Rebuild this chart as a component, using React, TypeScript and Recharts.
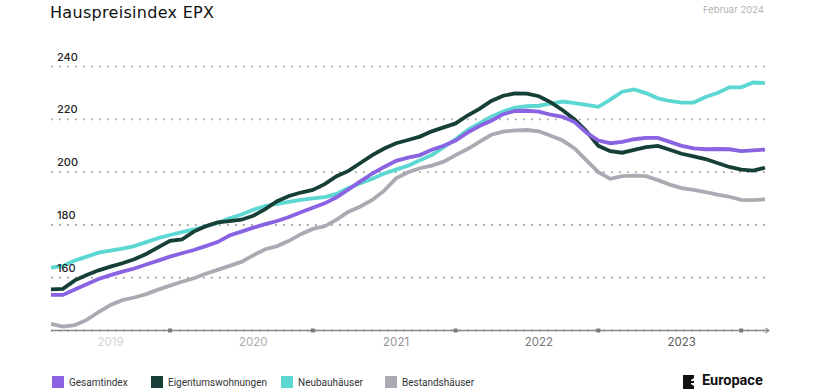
import { LineChart, Line, XAxis, YAxis, CartesianGrid, ReferenceDot } from 'recharts'

const months = [
  '2019-02', '2019-03', '2019-04', '2019-05', '2019-06', '2019-07', '2019-08', '2019-09', '2019-10', '2019-11', '2019-12',
  '2020-01', '2020-02', '2020-03', '2020-04', '2020-05', '2020-06', '2020-07', '2020-08', '2020-09', '2020-10', '2020-11', '2020-12',
  '2021-01', '2021-02', '2021-03', '2021-04', '2021-05', '2021-06', '2021-07', '2021-08', '2021-09', '2021-10', '2021-11', '2021-12',
  '2022-01', '2022-02', '2022-03', '2022-04', '2022-05', '2022-06', '2022-07', '2022-08', '2022-09', '2022-10', '2022-11', '2022-12',
  '2023-01', '2023-02', '2023-03', '2023-04', '2023-05', '2023-06', '2023-07', '2023-08', '2023-09', '2023-10', '2023-11', '2023-12',
  '2024-01', '2024-02',
]

const gesamtindex = [
  153.5, 153.5, 155.5, 157.5, 159.5, 161, 162.3, 163.5, 165, 166.5, 168,
  169.3, 170.5, 172, 173.5, 176, 177.5, 179, 180.3, 181.5, 183, 184.8, 186.5,
  188.2, 190.5, 193.5, 196.5, 199.5, 202, 204.3, 205.5, 206.5, 208.5, 210, 212,
  215, 217.5, 219.5, 222, 223.2, 223.3, 223, 221.8, 221, 219, 215, 212,
  211, 211.5, 212.5, 213, 213, 211.5, 210, 209, 208.7, 208.8, 208.7, 208,
  208.3, 208.6,
]

const eigentumswohnungen = [
  155.6, 155.8, 159, 161, 162.8, 164.2, 165.5, 167, 169, 171.5, 174,
  174.5, 177.5, 179.5, 181, 181.5, 182, 183.5, 186, 189, 191, 192.3, 193.3,
  195.5, 198.5, 200.5, 203.5, 206.5, 209, 211, 212.2, 213.5, 215.5, 217, 218.5,
  221.5, 224, 227, 229, 229.9, 229.8, 228.8, 226.5, 223.5, 220, 215.5, 210,
  208, 207.4, 208.5, 209.5, 210, 208.5, 207, 206, 205, 203.5, 202, 201,
  200.6, 201.7,
]

const neubauhaeuser = [
  163.8, 164.5, 166.5, 168, 169.5, 170.3, 171, 172, 173.5, 175, 176.2,
  177.3, 178.3, 179.5, 180.8, 182.5, 184, 185.8, 187.2, 188, 188.8, 189.5, 190.1,
  190.6, 191.8, 194, 195.8, 197.5, 199.5, 201, 202.5, 204.5, 206.5, 209.5, 212.5,
  216, 218.5, 221, 223, 224.5, 225, 225.2, 226, 226.8, 226.2, 225.5, 224.8,
  227.5, 230.5, 231.4, 230, 228, 227, 226.4, 226.4, 228.5, 230, 232.2, 232.2,
  234, 233.8,
]

const bestandshaeuser = [
  142.5, 141.5, 142, 144, 147, 149.7, 151.5, 152.5, 153.8, 155.5, 157,
  158.5, 159.8, 161.5, 163, 164.5, 166, 168.5, 170.8, 172, 174, 176.5, 178.5,
  179.5, 182, 185, 187, 189.5, 193, 197.7, 200, 201.5, 202.5, 204, 206.5,
  208.8, 211.5, 214.2, 215.4, 215.9, 216, 215.5, 213.8, 212, 209, 204.5, 200,
  197.5, 198.5, 198.7, 198.5, 197, 195.3, 194, 193.3, 192.5, 191.5, 190.7, 189.5,
  189.4, 189.7,
]

const yTicks = [160, 180, 200, 220, 240]
const yearTicks = ['2019-07', '2020-07', '2021-07', '2022-07', '2023-07']
const yearColors = ['#d4d4d4', '#ababab', '#979797', '#7a7a7a', '#585858']
const yearMarks = ['2019-12', '2020-12', '2021-12', '2022-12', '2023-12']

const legend = [
  { name: 'Gesamtindex', color: '#8a63e2', x: 52 },
  { name: 'Eigentumswohnungen', color: '#163f37', x: 151 },
  { name: 'Neubauhäuser', color: '#5dd7d2', x: 281 },
  { name: 'Bestandshäuser', color: '#abaab2', x: 385 },
]

const data = months.map((m, i) => ({
  month: m,
  gesamt: gesamtindex[i],
  etw: eigentumswohnungen[i],
  neubau: neubauhaeuser[i],
  bestand: bestandshaeuser[i],
}))

const font = 'Inter, "Noto Sans", sans-serif'

function YTick(p: any) {
  return (
    <text x={57} y={p.y - 6} fontSize={11} fontWeight={500} fill="#222" fontFamily={font}>
      {p.payload.value}
    </text>
  )
}

function XTick(p: any) {
  const idx = yearTicks.indexOf(p.payload.value)
  return (
    <text x={p.x} y={p.y + 7} fontSize={11.5} fill={yearColors[idx]} textAnchor="middle" fontFamily={font}>
      {p.payload.value.slice(0, 4)}
    </text>
  )
}

const Mark = (p: any) => <rect x={p.cx - 2} y={p.cy - 2} width={4} height={4} fill="#7a7a7a" />

const Arrow = (p: any) => (
  <g>
    <line x1={p.cx} y1={p.cy} x2={p.cx + 3} y2={p.cy} stroke="#8a8a8a" strokeWidth={1.3} />
    <path d={`M${p.cx + 0.5},${p.cy - 2.5} L${p.cx + 4},${p.cy} L${p.cx + 0.5},${p.cy + 2.5}`} fill="none" stroke="#8a8a8a" strokeWidth={1.2} />
  </g>
)

export default function App() {
  return (
    <div style={{ position: 'absolute', left: 0, top: 0, width: 820, height: 390, background: '#fff', overflow: 'hidden' }}>
      <div style={{ position: 'absolute', left: 50, top: 3, fontFamily: '"DejaVu Sans", sans-serif', fontSize: 16, color: '#111', letterSpacing: 0.3 }}>
        Hauspreisindex EPX
      </div>
      <div style={{ position: 'absolute', right: 56, top: 4, fontFamily: font, fontSize: 9.5, color: '#b3b3b3' }}>
        Februar 2024
      </div>
      <LineChart width={820} height={390} data={data} margin={{ top: 66.7, right: 55, left: 41, bottom: 29.5 }}>
        <CartesianGrid horizontal vertical={false} stroke="#9a9a9a" strokeWidth={1.8} strokeDasharray="1.6 6.4" />
        <XAxis
          dataKey="month"
          ticks={yearTicks}
          interval={0}
          height={30}
          tick={XTick}
          tickLine={false}
          axisLine={{ stroke: '#8a8a8a', strokeWidth: 1.3 }}
        />
        <YAxis domain={[140, 240]} ticks={yTicks} interval={0} width={10} tick={YTick} axisLine={false} tickLine={false} />
        <Line dataKey="bestand" stroke="#abaab2" strokeWidth={3.8} dot={false} isAnimationActive={false} />
        <Line dataKey="neubau" stroke="#5dd7d2" strokeWidth={3.8} dot={false} isAnimationActive={false} />
        <Line dataKey="etw" stroke="#163f37" strokeWidth={3.8} dot={false} isAnimationActive={false} />
        <Line dataKey="gesamt" stroke="#8a63e2" strokeWidth={3.8} dot={false} isAnimationActive={false} />
        {yearMarks.map((m) => (
          <ReferenceDot key={m} x={m} y={140} shape={Mark} />
        ))}
        <ReferenceDot x={months[months.length - 1]} y={140} shape={Arrow} />
      </LineChart>
      {legend.map((l) => (
        <div key={l.name} style={{ position: 'absolute', left: l.x, top: 376, display: 'flex', alignItems: 'center' }}>
          <div style={{ width: 12, height: 12, background: l.color }} />
          <span style={{ marginLeft: 5, fontFamily: 'Roboto, sans-serif', fontSize: 10, color: '#333' }}>{l.name}</span>
        </div>
      ))}
      <svg style={{ position: 'absolute', left: 683, top: 375 }} width={13} height={14}>
        <path d="M0,0 H11 V3 L8,5 V6 H11 V8 H8 V9 L11,11 V14 H0 Z" fill="#111" />
      </svg>
      <div style={{ position: 'absolute', left: 702, top: 372, fontFamily: 'Roboto, sans-serif', fontWeight: 700, fontSize: 14.5, color: '#111', lineHeight: '17px' }}>
        Europace
      </div>
    </div>
  )
}
